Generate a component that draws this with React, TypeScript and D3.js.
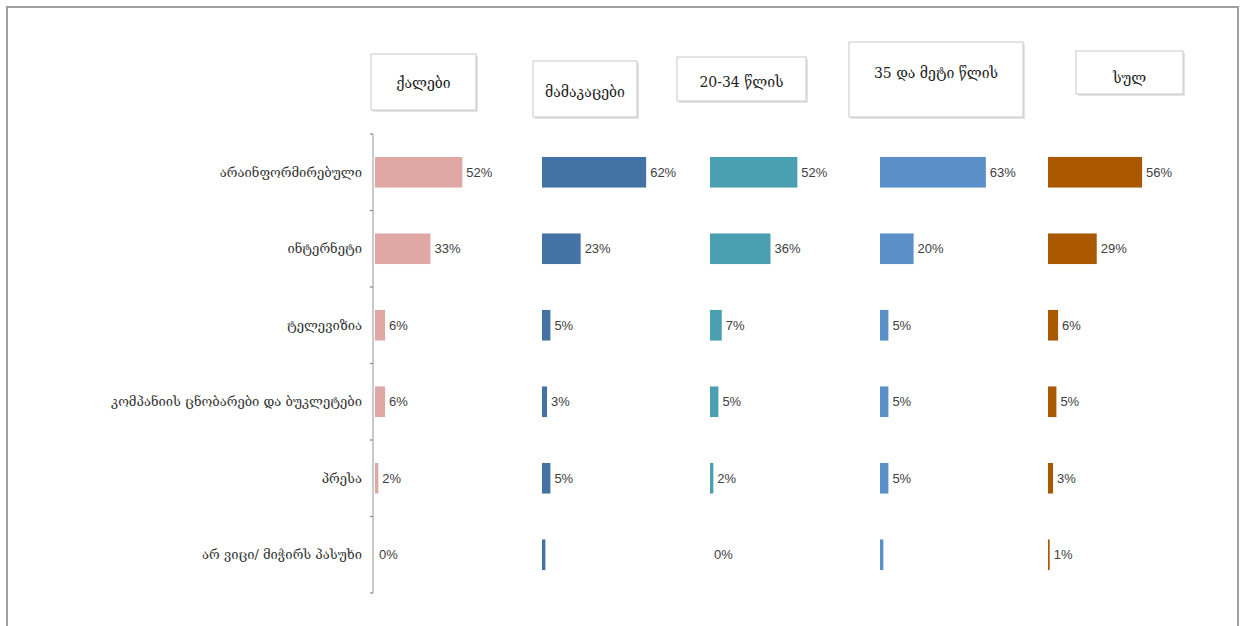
import React, { useEffect, useRef } from 'react';
import * as d3 from 'd3';

// categories (rows, top to bottom)
const categories = [
  'არაინფორმირებული',
  'ინტერნეტი',
  'ტელევიზია',
  'კომპანიის ცნობარები და ბუკლეტები',
  'პრესა',
  'არ ვიცი/ მიჭირს პასუხი',
];

// panel names
const groups = ['ქალები', 'მამაკაცები', '20-34 წლის', '35 და მეტი წლის', 'სულ'];

// values in %, one array per panel
const women = [52, 33, 6, 6, 2, 0];
const men = [62, 23, 5, 3, 5, 2];
const age2034 = [52, 36, 7, 5, 2, 0];
const age35plus = [63, 20, 5, 5, 5, 2];
const total = [56, 29, 6, 5, 3, 1];

// shown labels (Excel hid a couple of them)
const womenLabels = ['52%', '33%', '6%', '6%', '2%', '0%'];
const menLabels = ['62%', '23%', '5%', '3%', '5%', ''];
const age2034Labels = ['52%', '36%', '7%', '5%', '2%', '0%'];
const age35plusLabels = ['63%', '20%', '5%', '5%', '5%', ''];
const totalLabels = ['56%', '29%', '6%', '5%', '3%', '1%'];

const seriesValues = [women, men, age2034, age35plus, total];
const seriesLabels = [womenLabels, menLabels, age2034Labels, age35plusLabels, totalLabels];
const colors = ['#e0a8a5', '#4572a4', '#4aa0b1', '#5b8fc8', '#a95800'];

// header box layout (x, y, w, h, text baseline) - boxes were dragged around by hand
const headerBoxes = [
  { x: 371, y: 54, w: 105, h: 56, ty: 88 },
  { x: 533, y: 61, w: 104, h: 56, ty: 97 },
  { x: 677, y: 57, w: 129, h: 44, ty: 87 },
  { x: 849, y: 42, w: 174, h: 75, ty: 78 },
  { x: 1076, y: 51, w: 107, h: 43, ty: 83 },
];

const W = 1246;
const H = 626;

const App: React.FC = () => {
  const svgRef = useRef<SVGSVGElement>(null);

  useEffect(() => {
    if (!svgRef.current) return;
    const svg = d3.select(svgRef.current);
    svg.selectAll('*').remove();

    // outer frame
    svg.append('rect')
      .attr('x', 7).attr('y', 7)
      .attr('width', 1231).attr('height', 640)
      .attr('fill', '#fff')
      .attr('stroke', '#a0a0a0')
      .attr('stroke-width', 2);

    const top = 134;
    const bottom = 593;
    const axisX = 373;
    const panelX = [375, 542, 710, 880, 1048];
    const panelW = 168;

    const y = d3.scaleBand<string>()
      .domain(categories)
      .range([top, bottom])
      .paddingInner(0.6)
      .paddingOuter(0.3);

    const x = d3.scaleLinear().domain([0, 100]).range([0, panelW]);

    // category axis
    const axis = svg.append('g')
      .attr('transform', `translate(${axisX},0)`)
      .call(d3.axisLeft(y).tickSize(0).tickPadding(10).tickFormat(() => ''));
    axis.select('.domain').remove();
    axis.append('line')
      .attr('x1', 0).attr('x2', 0)
      .attr('y1', top).attr('y2', bottom)
      .attr('stroke', '#b8b8b8').attr('stroke-width', 1.5);
    const step = (bottom - top) / categories.length;
    d3.range(categories.length + 1).forEach(i => {
      axis.append('line')
        .attr('x1', -3).attr('x2', 0)
        .attr('y1', top + i * step).attr('y2', top + i * step)
        .attr('stroke', '#888').attr('stroke-width', 1.2);
    });

    // category labels
    svg.append('g')
      .selectAll('text')
      .data(categories)
      .enter().append('text')
      .attr('x', 362)
      .attr('y', d => (y(d) ?? 0) + y.bandwidth() / 2)
      .attr('dy', '0.35em')
      .attr('text-anchor', 'end')
      .attr('font-family', '"DejaVu Serif", serif')
      .attr('font-size', 13)
      .attr('fill', '#333')
      .text(d => d);

    // bars per panel
    seriesValues.forEach((vals, si) => {
      const g = svg.append('g').attr('transform', `translate(${panelX[si]},0)`);
      g.selectAll('rect')
        .data(vals)
        .enter().append('rect')
        .attr('x', 0)
        .attr('y', (_, i) => y(categories[i]) ?? 0)
        .attr('width', d => x(d))
        .attr('height', y.bandwidth())
        .attr('fill', colors[si]);
      g.selectAll('text')
        .data(vals)
        .enter().append('text')
        .attr('x', d => x(d) + 4)
        .attr('y', (_, i) => (y(categories[i]) ?? 0) + y.bandwidth() / 2)
        .attr('dy', '0.35em')
        .attr('font-family', '"Liberation Sans Narrow", "Liberation Sans", sans-serif')
        .attr('font-size', 13)
        .attr('fill', '#404040')
        .text((_, i) => seriesLabels[si][i]);
    });

    // header boxes
    groups.forEach((name, i) => {
      const b = headerBoxes[i];
      svg.append('rect')
        .attr('x', b.x + 2).attr('y', b.y + 2)
        .attr('width', b.w).attr('height', b.h)
        .attr('fill', '#e4e4e4');
      svg.append('rect')
        .attr('x', b.x).attr('y', b.y)
        .attr('width', b.w).attr('height', b.h)
        .attr('fill', '#fff')
        .attr('stroke', '#c8c8c8')
        .attr('stroke-width', 1);
      svg.append('text')
        .attr('x', b.x + b.w / 2)
        .attr('y', b.ty)
        .attr('text-anchor', 'middle')
        .attr('font-family', '"DejaVu Serif", serif')
        .attr('font-size', 14)
        .attr('fill', '#222')
        .text(name);
    });
  }, []);

  return (
    <svg
      ref={svgRef}
      width={W}
      height={H}
      style={{ position: 'absolute', left: 0, top: 0, background: '#fff' }}
    />
  );
};

export default App;
